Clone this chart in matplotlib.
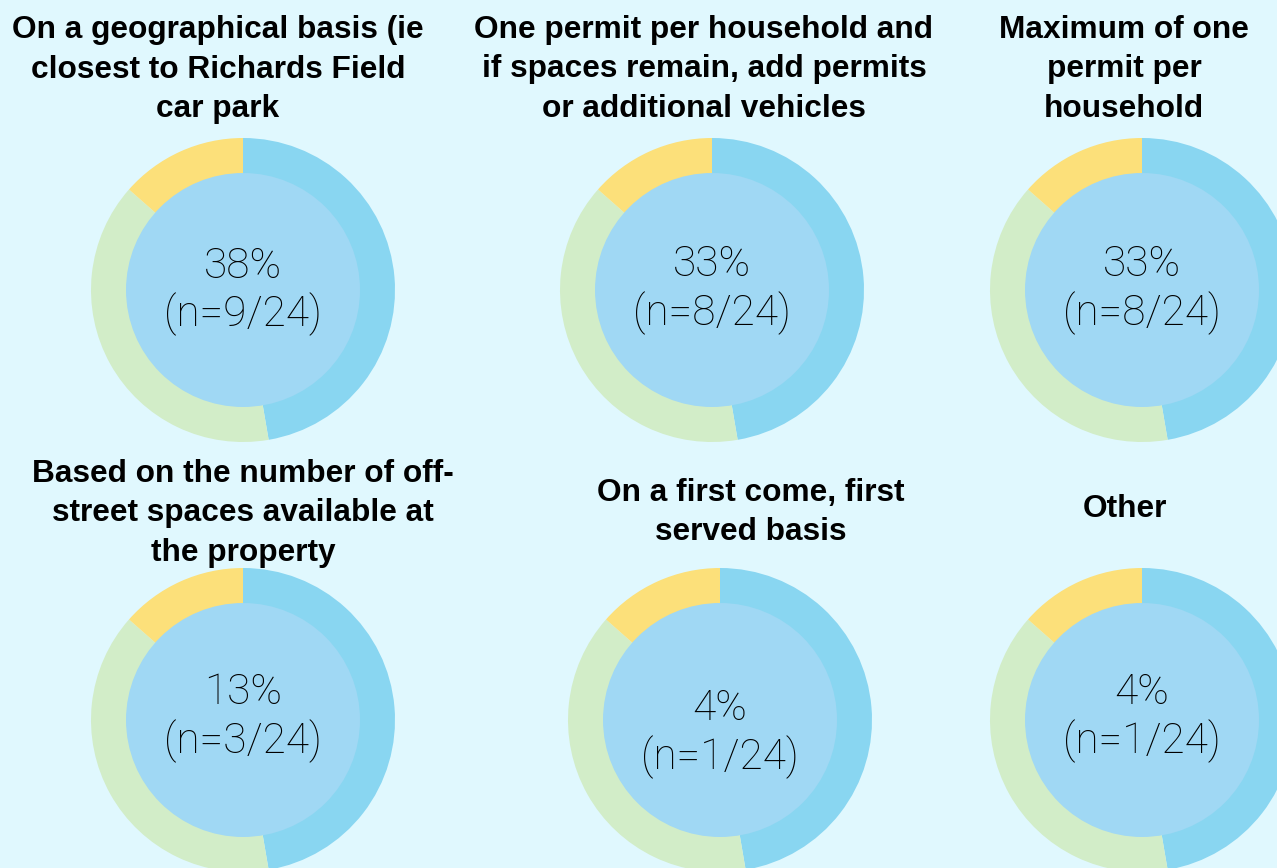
import matplotlib.pyplot as plt
from matplotlib.patches import Circle

W, H = 1277, 868

titles = [
    "On a geographical basis (ie\nclosest to Richards Field\ncar park",
    "One permit per household and\nif spaces remain, add permits\nor additional vehicles",
    "Maximum of one\npermit per\nhousehold",
    "Based on the number of off-\nstreet spaces available at\nthe property",
    "On a first come, first\nserved basis",
    "Other",
]
percents = [38, 33, 33, 13, 4, 4]
counts = [9, 8, 8, 3, 1, 1]
total = 24
# ring segments (same decorative split in every donut)
ring_values = [47.3, 39.2, 13.5]
ring_colors = ["#89D6F1", "#D2EDC8", "#FCE07A"]

bg = "#E0F8FE"
inner_color = "#A0D8F4"

# layout in pixels: donut centre, title centre x, first title line y, text offset
centers = [(243, 290), (712, 290), (1142, 290), (243, 720), (720, 720), (1142, 720)]
title_x = [218, 704, 1124, 243, 751, 1125]
title_y = [30, 30, 30, 474, 493, 509]
text_dy = [0, -1, -1, -3, 13, -3]
r_out, r_in = 152, 117

plt.rcParams['font.family'] = ['Liberation Sans', 'DejaVu Sans']

fig = plt.figure(figsize=(W / 100, H / 100), dpi=100)
fig.patch.set_facecolor(bg)
ax = fig.add_axes([0, 0, 1, 1])
ax.set_facecolor(bg)

for i in range(6):
    cx, cy = centers[i]
    ax.pie(ring_values, colors=ring_colors, startangle=90, counterclock=False,
           center=(cx, H - cy), radius=r_out, frame=True,
           wedgeprops=dict(linewidth=0))
    ax.add_patch(Circle((cx, H - cy), r_in, facecolor=inner_color, edgecolor='none'))

    ty = H - cy - text_dy[i]
    ax.text(cx, ty + 24, f"{percents[i]}%", ha='center', va='center',
            fontsize=30.5, fontweight='light', family=['Roboto', 'DejaVu Sans'])
    ax.text(cx, ty - 24, f"(n={counts[i]}/{total})", ha='center', va='center',
            fontsize=30.5, fontweight='light', family=['Roboto', 'DejaVu Sans'])

    lines = titles[i].split("\n")
    for k, line in enumerate(lines):
        ax.text(title_x[i], H - title_y[i] - k * 39.5, line, ha='center', va='center',
                fontsize=22.8, fontweight='bold')

ax.set_xlim(0, W)
ax.set_ylim(0, H)
ax.set_aspect('equal')
ax.axis('off')

fig.savefig("out.png", dpi=100, facecolor=bg)
